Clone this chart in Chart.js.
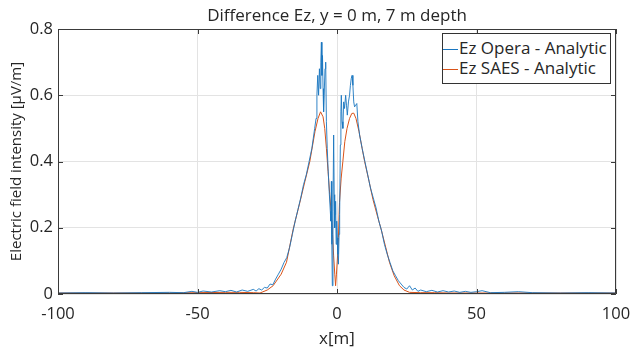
<!DOCTYPE html>
<html>
<head>
<title>Difference Ez</title>
<script src="https://cdn.jsdelivr.net/npm/chart.js"></script>
<style>
  body { margin: 0; background: #fff; }
  #wrap { position: relative; width: 630px; height: 349px; }
  #title { position: absolute; left: 58px; width: 558px; top: 3px; text-align: center;
    font: 17px "Open Sans", sans-serif; color: #262626; white-space: nowrap; }
  #legend { position: absolute; left: 442px; top: 33px; width: 169px; height: 51px;
    border: 1px solid #333; background: #fff; box-sizing: border-box;
    font: 17px "Open Sans", sans-serif; color: #262626; padding-top: 4px; }
  #legend div { height: 20px; line-height: 20px; white-space: nowrap; }
  #legend span.sw { display: inline-block; width: 15px; height: 0; border-top: 1px solid; vertical-align: middle; margin-right: 1px; }
</style>
</head>
<body>
<div id="wrap">
  <canvas id="chart" width="630" height="349"></canvas>
  <div id="title">Difference Ez, y = 0 m, 7 m depth</div>
  <div id="legend"></div>
</div>
<script>
// Ez Opera - Analytic
var opera_x = [-100,-90,-80,-70,-60,-55,-52,-50,-48,-45,-42,-40,-38,-36,-34,-32,-30,-29,-28,-27,-26,-25,-24,-23,-22,-21,-20,-19,-18,-17,-16,-15,-14,-13,-12,-11,-10,-9.5,-9,-8.5,
  -8,-7.5,-7.2,-6.9,-6.6,-6.3,-6,-5.8,-5.6,-5.4,-5.2,-5,-4.8,-4.6,-4.3,-4.05,-3.8,-3.5,-3.2,-2.8,-2.4,-2.2,-2,-1.85,-1.67,-1.45,-1.2,-1,-0.83,-0.65,-0.5,-0.3,-0.1,
  0.1,0.3,0.5,0.75,0.95,1.2,1.4,1.55,1.8,2.1,2.4,2.7,3.1,3.4,3.7,4.1,4.5,4.8,5.1,5.4,5.7,6,6.3,6.7,7.1,7.5,8.1,9,
  10,11,12,13,14,15,16,17,18,19,20,21,22,23,24,25,26,27,28,29,30,32,34,36,38,40,42,44,46,48,50,52,55,60,65,70,80,90,100];
var opera_y = [0.003,0.004,0.003,0.004,0.005,0.004,0.008,0.005,0.009,0.006,0.01,0.007,0.011,0.006,0.012,0.008,0.014,0.009,0.016,0.012,0.02,0.018,0.03,0.028,0.045,0.06,0.075,0.095,0.11,0.14,0.18,0.22,0.255,0.29,0.33,0.36,0.40,0.42,0.44,0.47,
  0.50,0.53,0.60,0.66,0.60,0.68,0.62,0.70,0.76,0.66,0.72,0.62,0.55,0.60,0.68,0.70,0.52,0.44,0.38,0.31,0.25,0.22,0.34,0.15,0.025,0.25,0.48,0.30,0.20,0.24,0.28,0.15,0.22,
  0.17,0.12,0.09,0.18,0.24,0.45,0.55,0.60,0.52,0.50,0.58,0.56,0.60,0.57,0.54,0.58,0.60,0.63,0.65,0.66,0.63,0.58,0.565,0.57,0.575,0.52,0.48,0.44,
  0.40,0.36,0.32,0.29,0.26,0.22,0.19,0.15,0.12,0.095,0.07,0.055,0.04,0.03,0.02,0.015,0.025,0.012,0.018,0.008,0.012,0.007,0.011,0.006,0.01,0.006,0.009,0.005,0.008,0.005,0.007,0.01,0.004,0.005,0.007,0.004,0.003,0.004,0.003];

// Ez SAES - Analytic
var saes_x = [-100,-80,-60,-50,-40,-35,-30,-27.6,-25,-22.9,-20,-18.1,-15.7,-13.3,-11.5,-9.75,-7.9,-6.8,-5.9,-5,-4.4,-3.8,-3.2,-2.6,-2,-1.6,-1.2,-0.8,-0.5,
  -0.2,0.2,0.5,0.9,1.5,2.1,2.8,3.6,4.5,5.3,6,6.8,7.9,9,9.9,11.5,12.9,14.5,15.8,17.5,18.8,20.5,22.4,24,26,30,35,40,50,60,80,100];
var saes_y = [0.003,0.003,0.003,0.004,0.005,0.005,0.004,0.003,0.012,0.025,0.06,0.096,0.196,0.277,0.34,0.40,0.49,0.53,0.55,0.535,0.50,0.44,0.37,0.30,0.237,0.18,0.115,0.06,0.025,
  0.06,0.115,0.17,0.277,0.35,0.40,0.46,0.50,0.53,0.545,0.546,0.53,0.49,0.44,0.40,0.34,0.285,0.235,0.196,0.14,0.096,0.055,0.025,0.012,0.005,0.004,0.004,0.003,0.003,0.003,0.003,0.003];

var x_ticks = [-100, -50, 0, 50, 100];
var y_ticks = [0, 0.2, 0.4, 0.6, 0.8];

var series_labels = ["Ez Opera - Analytic", "Ez SAES - Analytic"];
var series_colors = ["#1a76c0", "#D95319"];

function pts(xs, ys) {
  var out = [];
  for (var i = 0; i < xs.length; i++) out.push({ x: xs[i], y: ys[i] });
  return out;
}

var FONT = '"Open Sans", sans-serif';
var INK = "#262626";

// axes box and inward tick marks, matlab style
var boxPlugin = {
  id: "box",
  afterDraw: function (chart) {
    var ctx = chart.ctx, a = chart.chartArea;
    var sx = chart.scales.x, sy = chart.scales.y;
    ctx.save();
    ctx.strokeStyle = "#3a3a3a";
    ctx.lineWidth = 1;
    ctx.beginPath();
    ctx.rect(a.left + 0.5, a.top + 0.5, a.right - a.left - 1, a.bottom - a.top - 1);
    x_ticks.forEach(function (v) {
      var px = Math.round(sx.getPixelForValue(v)) + 0.5;
      ctx.moveTo(px, a.bottom); ctx.lineTo(px, a.bottom - 5);
      ctx.moveTo(px, a.top); ctx.lineTo(px, a.top + 5);
    });
    y_ticks.forEach(function (v) {
      var py = Math.round(sy.getPixelForValue(v)) + 0.5;
      ctx.moveTo(a.left, py); ctx.lineTo(a.left + 5, py);
      ctx.moveTo(a.right, py); ctx.lineTo(a.right - 5, py);
    });
    ctx.stroke();
    ctx.restore();
  }
};

var chart = new Chart(document.getElementById("chart"), {
  type: "line",
  data: {
    datasets: [
      { label: series_labels[0], data: pts(opera_x, opera_y), borderColor: series_colors[0], borderWidth: 0.9, pointRadius: 0, tension: 0 },
      { label: series_labels[1], data: pts(saes_x, saes_y), borderColor: series_colors[1], borderWidth: 1, pointRadius: 0, tension: 0 }
    ]
  },
  options: {
    responsive: false,
    animation: false,
    layout: { autoPadding: false, padding: { left: 0, right: 14, top: 29, bottom: 0 } },
    plugins: {
      legend: { display: false },
      tooltip: { enabled: false },
      title: { display: false }
    },
    scales: {
      x: {
        type: "linear", min: -100, max: 100,
        afterBuildTicks: function (s) { s.ticks = x_ticks.map(function (v) { return { value: v }; }); },
        afterFit: function (s) { s.height = 55; s.paddingLeft = 0; s.paddingRight = 0; },
        ticks: { color: INK, font: { family: FONT, size: 16.5 }, padding: 10, maxRotation: 0 },
        grid: { color: "#e3e3e3", drawTicks: false },
        border: { display: false },
        title: { display: true, text: "x[m]", color: INK, font: { family: FONT, size: 17 }, padding: { top: 0, bottom: 0 } }
      },
      y: {
        min: 0, max: 0.8,
        afterBuildTicks: function (s) { s.ticks = y_ticks.map(function (v) { return { value: v }; }); },
        afterFit: function (s) { s.width = 58; s.paddingTop = 0; s.paddingBottom = 0; },
        ticks: { color: INK, font: { family: FONT, size: 16.5 }, padding: 5 },
        grid: { color: "#e3e3e3", drawTicks: false },
        border: { display: false },
        title: { display: true, text: "Electric field intensity [μV/m]", color: INK, font: { family: FONT, size: 15 }, padding: { top: 8, bottom: 0 } }
      }
    }
  },
  plugins: [boxPlugin]
});

var lg = document.getElementById("legend");
series_labels.forEach(function (t, i) {
  var row = document.createElement("div");
  row.innerHTML = '<span class="sw" style="border-color:' + series_colors[i] + '"></span>' + t;
  lg.appendChild(row);
});
</script>
</body>
</html>
